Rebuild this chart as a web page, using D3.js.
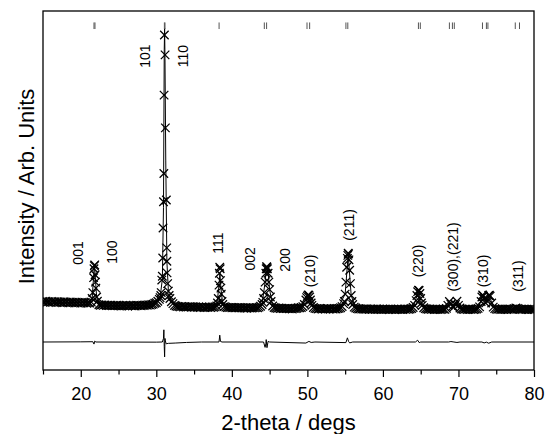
<!DOCTYPE html>
<html>
<head>
<meta charset="utf-8">
<script src="https://cdn.jsdelivr.net/npm/d3@7"></script>
<style>
body { margin: 0; background: #fff; }
svg text { font-family: "Liberation Sans", Arial, sans-serif; fill: #000; }
</style>
</head>
<body>
<div id="chart"></div>
<script>
// observed scan, 0.2 deg step from 15 to 80 deg (one row = 2 deg)
var obsStart = 15, obsStep = 0.2;
var obsCounts = [
    1050, 1025, 1060, 1035, 1045, 1020, 1055, 1030, 1040, 1015,
    1045, 1025, 1035, 1010, 1040, 1020, 1030, 1005, 1035, 1015,
    1025, 1000, 1030, 1010, 1020, 995, 1025, 1005, 1015, 990,
    1010, 995, 1030, 1350, 2250, 1500, 1060, 940, 925, 935,
    920, 935, 915, 925, 910, 930, 905, 920, 910, 925,
    905, 920, 900, 915, 905, 925, 900, 910, 920, 905,
    915, 900, 925, 910, 920, 905, 930, 915, 935, 925,
    940, 930, 950, 960, 990, 1010, 1060, 1120, 1250, 1900,
    5350, 6880, 2400, 1400, 1150, 1040, 980, 920, 900, 885,
    880, 870, 885, 865, 875, 860, 870, 880, 865, 875,
    860, 870, 855, 865, 850, 870, 860, 845, 865, 855,
    860, 850, 865, 855, 870, 900, 1150, 2200, 1300, 950,
    880, 860, 850, 845, 855, 840, 850, 835, 845, 840,
    850, 835, 845, 830, 840, 825, 845, 835, 830, 840,
    835, 845, 840, 860, 890, 950, 1150, 1700, 2220, 2000,
    1450, 1050, 900, 850, 830, 820, 830, 815, 825, 810,
    820, 810, 825, 805, 815, 800, 820, 810, 825, 840,
    835, 850, 880, 950, 1100, 1230, 1260, 1100, 920, 850,
    820, 810, 800, 815, 805, 795, 810, 800, 815, 805,
    800, 810, 795, 805, 800, 815, 820, 840, 880, 980,
    1300, 2200, 2670, 2100, 1250, 950, 860, 830, 810, 800,
    805, 795, 800, 790, 805, 795, 785, 800, 790, 795,
    785, 800, 790, 795, 780, 800, 790, 785, 795, 780,
    790, 785, 795, 780, 790, 800, 785, 790, 780, 795,
    785, 795, 790, 800, 815, 850, 920, 1080, 1380, 1420,
    1150, 920, 840, 810, 800, 790, 800, 785, 795, 780,
    790, 785, 795, 780, 790, 800, 785, 820, 920, 1050,
    960, 880, 860, 950, 1060, 920, 830, 800, 790, 785,
    795, 780, 790, 785, 795, 780, 790, 800, 820, 870,
    1050, 1270, 1150, 1000, 1080, 1250, 1230, 1000, 860, 810,
    795, 785, 800, 780, 790, 785, 795, 780, 790, 800,
    785, 795, 810, 830, 815, 795, 790, 780, 795, 785,
    790, 780, 795, 785, 790, 780
];

// extra points read on the peak flanks [2theta, counts]
var obsPeakPoints = [
    [21.5, 1150], [21.7, 1850], [21.75, 2150], [21.85, 2280], [21.9, 1950], [21.95, 1700], [22.1, 1200],
    [30.5, 1180], [30.65, 1350], [30.72, 1770], [30.85, 2510], [30.89, 3520], [30.95, 4400],
    [31.03, 7980], [31.07, 10000], [31.16, 9330], [31.33, 4460], [31.38, 2850], [31.42, 2010],
    [31.5, 1650], [31.7, 1250],
    [38.1, 1000], [38.3, 1600], [38.35, 2000], [38.45, 2150], [38.5, 1750], [38.55, 1500], [38.7, 1050],
    [44.1, 1020], [44.3, 1350], [44.5, 2000], [44.55, 2150], [44.65, 2200], [44.7, 2150], [44.9, 1700], [45.1, 1200],
    [49.9, 1180], [50.1, 1270], [50.3, 1200], [50.5, 1000],
    [54.9, 1050], [55.1, 1700], [55.3, 2500], [55.35, 2600], [55.45, 2650], [55.5, 2450], [55.7, 1650], [55.9, 1050],
    [64.5, 1250], [64.7, 1430], [64.9, 1320], [65.1, 1000],
    [73.1, 1200], [73.3, 1230], [74.1, 1260]
];

// fitted profile [2theta, counts]
var calcProfile = [
    [15, 1040], [18, 1025], [21, 1010], [21.5, 1120], [21.7, 1900], [21.8, 2300], [21.9, 1950], [22.1, 1200],
    [22.4, 950], [25, 915], [29, 935], [30, 1010], [30.5, 1180], [30.8, 1800], [30.95, 4200],
    [31.05, 9500], [31.1, 10230], [31.15, 9200], [31.25, 5800], [31.4, 2400], [31.6, 1400], [32, 1040],
    [33, 880], [37, 860], [38, 900], [38.3, 1600], [38.42, 2000], [38.55, 1500], [38.8, 950], [39.5, 850],
    [43.5, 845], [44, 950], [44.4, 1700], [44.6, 2230], [44.8, 2020], [45, 1450], [45.4, 900], [46, 820],
    [49, 835], [49.8, 1100], [50.15, 1260], [50.6, 920], [51, 820], [54, 815], [55, 1300], [55.4, 2620],
    [55.8, 1250], [56.4, 830], [60, 790], [64, 850], [64.7, 1410], [65.2, 920], [66, 795], [68.6, 900],
    [68.8, 1040], [69.2, 890], [69.8, 1050], [70.2, 830], [72.6, 810], [73.2, 1250], [73.6, 1010],
    [74.1, 1240], [74.6, 860], [75, 795], [80, 785]
];

// observed - calculated [2theta, counts], drawn shifted by diffOffset
var diffOffset = -310;
var diffProfile = [
    [15, 0], [20, 5], [21.6, 10], [21.75, -70], [21.85, 30], [22, 0], [30, -5], [30.8, 0],
    [30.95, 120], [31.0, 410], [31.05, -150], [31.1, -500], [31.15, 120], [31.2, 40], [31.3, -60],
    [31.6, -45], [32.5, -35], [34, -15], [36, 0], [38.3, 0], [38.4, 230], [38.5, 20], [38.7, 0],
    [44.2, 0], [44.4, -180], [44.5, -60], [44.55, 80], [44.65, -190], [44.8, 20], [45, 0],
    [49.8, -35], [50.2, 20], [50.5, -15], [51, 0], [55.1, -20], [55.3, 140], [55.45, 20], [55.6, -30],
    [56, 0], [64.3, 0], [64.6, 60], [64.8, -20], [65, 0], [68.7, 0], [69, 15], [69.4, 0], [69.8, -15],
    [70.2, 0], [73.1, 0], [73.4, -30], [73.7, -5], [74, -40], [74.4, 0], [80, 0]
];

// reflection positions shown as tick marks at the top
var reflections = [21.75, 21.88, 31.07, 31.15, 38.31, 44.3, 44.6, 49.95, 50.3, 55.1, 55.35,
    64.7, 64.95, 68.8, 69.2, 69.45, 73.18, 73.7, 73.9, 77.52, 78.08];

var hklText = ["001", "100", "101", "110", "111", "002", "200", "(210)", "(211)", "(220)", "(300),(221)", "(310)", "(311)"];
var hklAngle = [19.67, 24.1, 28.5, 33.5, 38.22, 42.42, 47.05, 50.36, 55.57, 64.71, 69.35, 73.32, 77.95];
var hklLevel = [2680, 2710, 9290, 9290, 3015, 2480, 2445, 2075, 3620, 2410, 2545, 2075, 1905];

var xMajor = [20, 30, 40, 50, 60, 70, 80];
var xMinor = [15, 25, 35, 45, 55, 65, 75];

var width = 546, height = 434;
var margin = {left: 43, right: 12, top: 11, bottom: 64};
var fontFam = "'Liberation Sans', Arial, sans-serif";

var svg = d3.select("#chart").append("svg")
    .attr("width", width)
    .attr("height", height);

var x = d3.scaleLinear().domain([15, 80]).range([margin.left, width - margin.right]);
var y = d3.scaleLinear().domain([-1250, 10805]).range([height - margin.bottom, margin.top]);

svg.append("clipPath").attr("id", "plotClip")
    .append("rect")
    .attr("x", margin.left).attr("y", margin.top)
    .attr("width", width - margin.left - margin.right)
    .attr("height", height - margin.top - margin.bottom);

var plot = svg.append("g").attr("clip-path", "url(#plotClip)");

// observed points: grid + flank points
var observed = obsCounts.map(function (c, i) {
    return [obsStart + i * obsStep, c];
}).concat(obsPeakPoints).sort(function (a, b) { return a[0] - b[0]; });

var line = d3.line()
    .x(function (d) { return x(d[0]); })
    .y(function (d) { return y(d[1]); });

plot.append("path")
    .datum(calcProfile)
    .attr("fill", "none")
    .attr("stroke", "#000")
    .attr("stroke-width", 1)
    .attr("d", line);

var crossX = {
    draw: function (ctx, size) {
        var r = Math.sqrt(size) / 2;
        ctx.moveTo(-r, -r); ctx.lineTo(r, r);
        ctx.moveTo(-r, r); ctx.lineTo(r, -r);
    }
};

plot.append("g").selectAll("path")
    .data(observed)
    .enter().append("path")
    .attr("transform", function (d) { return "translate(" + x(d[0]) + "," + y(d[1]) + ")"; })
    .attr("d", d3.symbol().type(crossX).size(72))
    .attr("fill", "none")
    .attr("stroke", "#000")
    .attr("stroke-width", 1.25);

plot.append("path")
    .datum(diffProfile)
    .attr("fill", "none")
    .attr("stroke", "#000")
    .attr("stroke-width", 1)
    .attr("d", d3.line()
        .x(function (d) { return x(d[0]); })
        .y(function (d) { return y(d[1] + diffOffset); }));

// reflection ticks
plot.append("g").selectAll("line")
    .data(reflections)
    .enter().append("line")
    .attr("x1", function (d) { return x(d); })
    .attr("x2", function (d) { return x(d); })
    .attr("y1", y(10420))
    .attr("y2", y(10200))
    .attr("stroke", "#555")
    .attr("stroke-width", 1);

// hkl labels
svg.append("g").selectAll("text")
    .data(hklText)
    .enter().append("text")
    .attr("transform", function (d, i) {
        return "translate(" + x(hklAngle[i]) + "," + y(hklLevel[i]) + ") rotate(-90)";
    })
    .attr("text-anchor", "middle")
    .attr("dy", "0.35em")
    .style("font-size", "14px")
    .text(function (d) { return d; });

// frame
svg.append("rect")
    .attr("x", margin.left).attr("y", margin.top)
    .attr("width", width - margin.left - margin.right)
    .attr("height", height - margin.top - margin.bottom)
    .attr("fill", "none")
    .attr("stroke", "#000")
    .attr("stroke-width", 1.3);

var xAxis = svg.append("g")
    .attr("transform", "translate(0," + (height - margin.bottom) + ")")
    .call(d3.axisBottom(x).tickValues(xMajor).tickSize(7).tickPadding(10).tickFormat(d3.format("d")));
xAxis.select(".domain").remove();
xAxis.selectAll("text").style("font-size", "18px").style("font-family", fontFam);
xAxis.selectAll("line").attr("stroke-width", 1.2);

var xMinorAxis = svg.append("g")
    .attr("transform", "translate(0," + (height - margin.bottom) + ")")
    .call(d3.axisBottom(x).tickValues(xMinor).tickSize(4.5).tickFormat(""));
xMinorAxis.select(".domain").remove();
xMinorAxis.selectAll("line").attr("stroke-width", 1.2);

svg.append("text")
    .attr("x", (margin.left + width - margin.right) / 2)
    .attr("y", 430)
    .attr("text-anchor", "middle")
    .style("font-size", "22px")
    .text("2-theta / degs");

svg.append("text")
    .attr("transform", "translate(34," + ((margin.top + height - margin.bottom) / 2 - 4) + ") rotate(-90)")
    .attr("text-anchor", "middle")
    .style("font-size", "22px")
    .text("Intensity / Arb. Units");
</script>
</body>
</html>
